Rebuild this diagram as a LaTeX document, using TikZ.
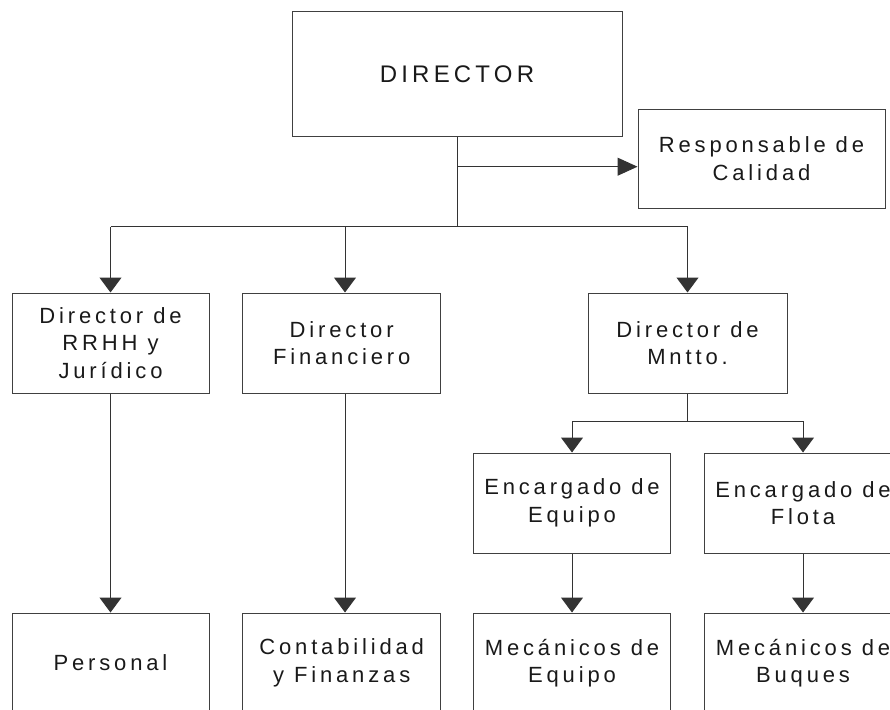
\documentclass[tikz,border=0pt]{standalone}
\usepackage{fontspec}
\setmainfont{Liberation Sans}[LetterSpace=17.5]
\usetikzlibrary{arrows.meta}
\tikzset{
  orgbox/.style={draw=black!75, line width=1pt, minimum width=197pt, minimum height=100pt,
    align=center, inner sep=0pt, text=black!90, font=\fontsize{22}{27.5}\selectfont},
  conn/.style={draw=black!80, line width=1pt},
  arr/.style={conn, -{Triangle[length=15pt,width=22pt]}},
  arrr/.style={conn, -{Triangle[length=20pt,width=18pt]}}
}
\begin{document}
\begin{tikzpicture}[x=1pt,y=-1pt]
\useasboundingbox (0,0) rectangle (890,709);
\clip (0,0) rectangle (890,709);
\node[orgbox, minimum width=330pt, minimum height=124pt, font=\fontsize{24}{30}\selectfont] (dir) at (457,74) {DIRECTOR};
\node[orgbox, minimum width=247pt, minimum height=99pt] (cal) at (761.5,158.5) {Responsable de\\Calidad};
\node[orgbox] (rrhh) at (110.5,343) {Director de\\RRHH y\\Jurídico};
\node[orgbox, minimum width=198pt] (fin) at (341.7,343) {Director\\Financiero};
\node[orgbox, minimum width=199pt] (mnt) at (687.5,343) {Director de\\Mntto.};
\node[orgbox] (eeq) at (572,503) {Encargado de\\Equipo};
\node[orgbox] (efl) at (803,503) {Encargado de\\Flota};
\node[orgbox] (per) at (110.5,663) {Personal};
\node[orgbox, minimum width=198pt] (con) at (341.7,663) {Contabilidad\\y Finanzas};
\node[orgbox] (meq) at (572,663) {Mecánicos de\\Equipo};
\node[orgbox] (mbu) at (803,663) {Mecánicos de\\Buques};
% top connectors
\coordinate (j1) at (457,166.7);
\coordinate (bus) at (457,226.5);
\coordinate (finin) at ([xshift=3.3pt]fin.north);
\coordinate (finout) at ([xshift=3.3pt]fin.south);
\coordinate (conin) at ([xshift=3.3pt]con.north);
\draw[conn] (dir.south) -- (bus);
\draw[arrr] (j1) -- (j1 -| cal.west);
\draw[conn] (bus) -- (bus -| rrhh.north);
\draw[conn] (bus) -- (bus -| mnt.north);
\draw[arr] (bus -| rrhh.north) -- (rrhh.north);
\draw[arr] (bus -| finin) -- (finin);
\draw[arr] (bus -| mnt.north) -- (mnt.north);
% maintenance branch
\coordinate (bus2) at (687.5,421);
\draw[conn] (mnt.south) -- (bus2);
\draw[arr] (bus2) -| (eeq.north);
\draw[arr] (bus2) -| (efl.north);
% lower connectors
\draw[arr] (rrhh.south) -- (per.north);
\draw[arr] (finout) -- (conin);
\draw[arr] (eeq.south) -- (meq.north);
\draw[arr] (efl.south) -- (mbu.north);
\end{tikzpicture}
\end{document}
